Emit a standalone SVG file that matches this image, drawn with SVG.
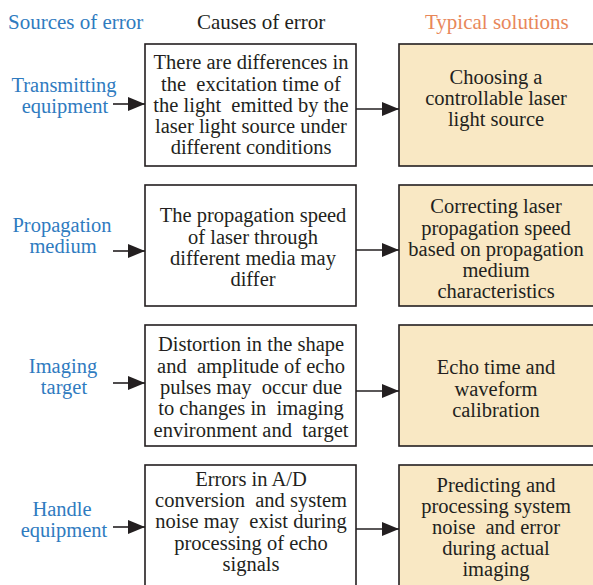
<svg xmlns="http://www.w3.org/2000/svg" width="593" height="585" viewBox="0 0 593 585" font-family="'Liberation Serif', 'DejaVu Serif', serif">
<style>
text{font-family:'Liberation Serif','DejaVu Serif',serif;font-size:20.5px;fill:#231f20;text-anchor:middle;white-space:pre}
.hdr{text-anchor:start;font-size:21px}
.src{fill:#2f7bbf}
.sol{fill:#e8875a}
.cause{fill:#ffffff;stroke:#231f20;stroke-width:1.6}
.fix{fill:#f9e8c4;stroke:#231f20;stroke-width:1.6}
.conn line{stroke:#231f20;stroke-width:1.6;marker-end:url(#ah)}
</style>
<defs>
<marker id="ah" markerUnits="userSpaceOnUse" markerWidth="18" markerHeight="15" refX="17" refY="7" orient="auto">
<path d="M0,0 L17,7 L0,14 z" fill="#231f20"/>
</marker>
</defs>
<rect width="593" height="585" fill="#ffffff"/>
<g id="headers">
<text class="hdr src" x="8" y="29">Sources of error</text>
<text class="hdr" x="197" y="29">Causes of error</text>
<text class="hdr sol" x="425" y="29">Typical solutions</text>
</g>
<g id="src1"><text class="src" x="64" y="92">Transmitting</text><text class="src" x="65" y="113">equipment</text></g>
<g id="src2"><text class="src" x="62" y="232">Propagation</text><text class="src" x="63" y="253">medium</text></g>
<g id="src3"><text class="src" x="63" y="373">Imaging</text><text class="src" x="64" y="394">target</text></g>
<g id="src4"><text class="src" x="62" y="516">Handle</text><text class="src" x="64" y="537">equipment</text></g>
<g id="cause1">
<rect class="cause" x="145" y="44" width="211" height="122"/>
<text x="251" y="69">There are differences in</text>
<text x="251" y="91">the  excitation time of</text>
<text x="251" y="112">the light  emitted by the</text>
<text x="251" y="133">laser light source under</text>
<text x="251" y="154">different conditions</text>
</g>
<g id="cause2">
<rect class="cause" x="145" y="185" width="211" height="121"/>
<text x="253" y="222">The propagation speed</text>
<text x="253" y="244">of laser through</text>
<text x="253" y="265">different media may</text>
<text x="253" y="286">differ</text>
</g>
<g id="cause3">
<rect class="cause" x="145" y="325" width="211" height="121"/>
<text x="251" y="351">Distortion in the shape</text>
<text x="251" y="373">and  amplitude of echo</text>
<text x="251" y="394">pulses may  occur due</text>
<text x="251" y="415">to changes in  imaging</text>
<text x="251" y="437">environment and  target</text>
</g>
<g id="cause4">
<rect class="cause" x="145" y="465" width="211" height="125"/>
<text x="251" y="486">Errors in A/D</text>
<text x="251" y="507">conversion  and system</text>
<text x="251" y="528">noise may  exist during</text>
<text x="251" y="550">processing of echo</text>
<text x="251" y="571">signals</text>
</g>
<g id="fix1">
<rect class="fix" x="399" y="44" width="200" height="122"/>
<text x="496" y="84">Choosing a</text>
<text x="496" y="105">controllable laser</text>
<text x="496" y="126">light source</text>
</g>
<g id="fix2">
<rect class="fix" x="399" y="185" width="200" height="121"/>
<text x="496" y="213">Correcting laser</text>
<text x="496" y="235">propagation speed</text>
<text x="496" y="256">based on propagation</text>
<text x="496" y="277">medium</text>
<text x="496" y="298">characteristics</text>
</g>
<g id="fix3">
<rect class="fix" x="399" y="325" width="200" height="121"/>
<text x="496" y="374">Echo time and</text>
<text x="496" y="396">waveform</text>
<text x="496" y="417">calibration</text>
</g>
<g id="fix4">
<rect class="fix" x="399" y="465" width="200" height="125"/>
<text x="496" y="492">Predicting and</text>
<text x="496" y="513">processing system</text>
<text x="496" y="534">noise  and error</text>
<text x="496" y="555">during actual</text>
<text x="496" y="576">imaging</text>
</g>
<g class="conn" id="connectors">
<line x1="113" y1="104" x2="145" y2="104"/>
<line x1="356" y1="109" x2="399" y2="109"/>
<line x1="113" y1="251" x2="145" y2="251"/>
<line x1="356" y1="250" x2="399" y2="250"/>
<line x1="113" y1="383" x2="145" y2="383"/>
<line x1="356" y1="391" x2="399" y2="391"/>
<line x1="113" y1="527" x2="145" y2="527"/>
<line x1="356" y1="529" x2="399" y2="529"/>
</g>
</svg>
